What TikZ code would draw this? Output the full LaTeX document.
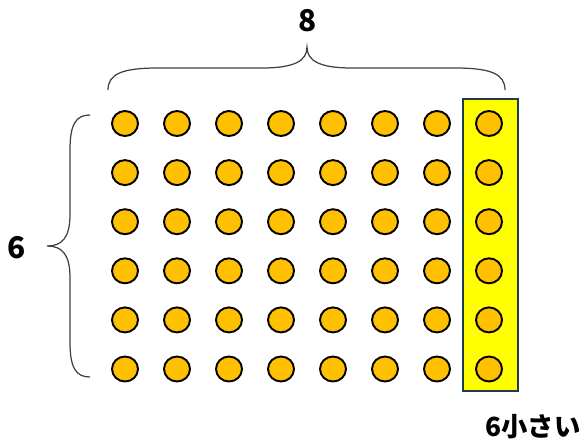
\documentclass[tikz,border=0pt]{standalone}
\usepackage{fontspec}
\usepackage{tikz}
\usetikzlibrary{shapes.geometric}
\newfontfamily\jpfont{Noto Sans CJK JP}
\definecolor{dotorange}{HTML}{FFC000}
\definecolor{colyellow}{HTML}{FFFF00}
\definecolor{boxedge}{HTML}{1F3B4D}
\definecolor{bracegray}{HTML}{404040}
\tikzset{
  dot/.style={ellipse, draw=black, fill=dotorange, line width=1.1pt,
    minimum width=0.52cm, minimum height=0.5cm, inner sep=0pt},
  hilite/.style={rectangle, draw=boxedge, fill=colyellow, line width=1.1pt,
    minimum width=1.1cm, minimum height=5.84cm, inner sep=0pt},
  bracepath/.style={draw=bracegray, line width=0.7pt},
  countlabel/.style={font=\jpfont\bfseries\fontsize{17}{20}\selectfont, inner sep=0pt}
}
\begin{document}
\begin{tikzpicture}[x=0.02cm, y=-0.02cm]
        \useasboundingbox (0,0) rectangle (584,443);
        % highlighted last column
        \node[hilite] (lastcol) at (490.7,245) {};
        % 8 x 6 dots
        \foreach \i in {1,...,8} {
          \foreach \j in {1,...,6} {
            \node[dot] (d-\i-\j) at ({125+52*(\i-1)},{123.5+49.1*(\j-1)}) {};
          }
        }
        % braces
        \draw[bracepath] (108,90) .. controls (108,74) and (122,68) .. (158,68) -- (262,68)
          .. controls (294,68) and (307,61) .. (307,47)
          .. controls (307,61) and (320,68) .. (352,68) -- (455,68)
          .. controls (491,68) and (505,74) .. (505,90);
        \draw[bracepath] (90,115) .. controls (76,115) and (70,124) .. (70,150) -- (70,214)
          .. controls (70,238) and (62,246) .. (47,246)
          .. controls (62,246) and (70,254) .. (70,278) -- (70,342)
          .. controls (70,368) and (76,377) .. (90,377);
        \node[countlabel] (cols) at (308,21) {8};
        \node[countlabel] (rows) at (17,248) {6};
        \node[countlabel, font=\jpfont\bfseries\fontsize{15}{18}\selectfont, anchor=east] (less) at (581,427) {6小さい};
      \end{tikzpicture}
\end{document}
